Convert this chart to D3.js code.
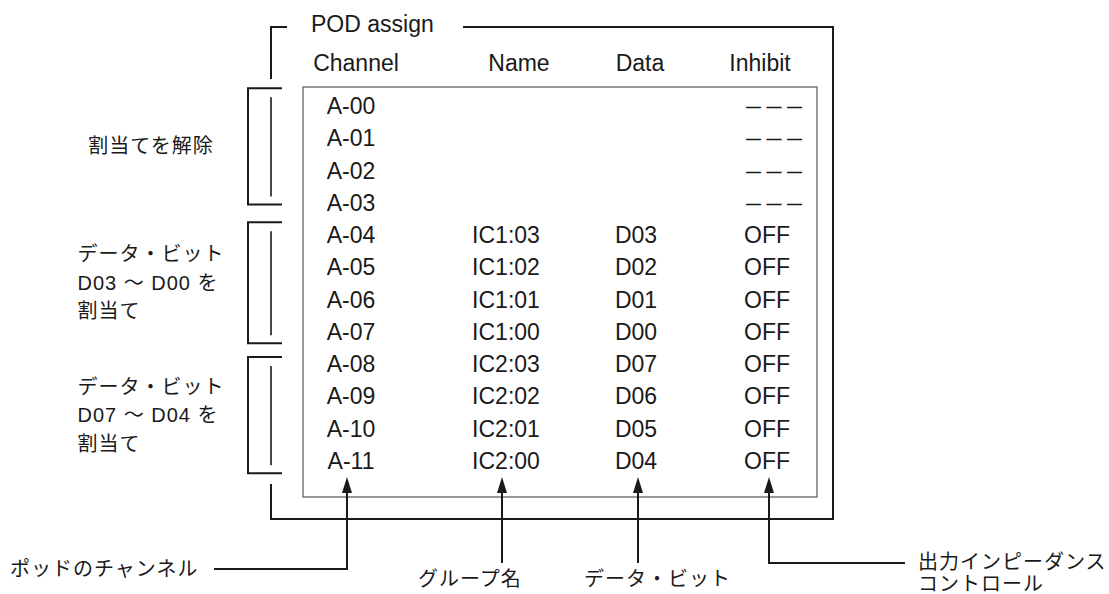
<!DOCTYPE html>
<html><head><meta charset="utf-8">
<script src="https://cdn.jsdelivr.net/npm/d3@7"></script>
<style>
html,body{margin:0;padding:0;background:#fff;}
svg{display:block;}
</style></head>
<body>
<svg id="chart" width="1109" height="594"></svg>
<script>
// ---- data ----
const title = "POD assign";
const headers = ["Channel", "Name", "Data", "Inhibit"];
const channels = ["A-00","A-01","A-02","A-03","A-04","A-05","A-06","A-07","A-08","A-09","A-10","A-11"];
const names = ["","","","","IC1:03","IC1:02","IC1:01","IC1:00","IC2:03","IC2:02","IC2:01","IC2:00"];
const dataBits = ["","","","","D03","D02","D01","D00","D07","D06","D05","D04"];
const inhibits = ["———","———","———","———","OFF","OFF","OFF","OFF","OFF","OFF","OFF","OFF"];
const groupLabels = [
  ["割当てを解除"],
  ["データ・ビット","D03 〜 D00 を","割当て"],
  ["データ・ビット","D07 〜 D04 を","割当て"]
];
const groupRows = [[0,3],[4,7],[8,11]];
const calloutLabels = [["ポッドのチャンネル"],["グループ名"],["データ・ビット"],["出力インピーダンス","コントロール"]];

// ---- layout ----
const svg = d3.select("#chart");
const ink = "#1a1a1a";
const latin = "'Liberation Sans', Arial, Helvetica, sans-serif";
const cjk = "'Liberation Sans', 'Noto Sans CJK JP', sans-serif";
const fs = 23;

svg.append("rect").attr("width",1109).attr("height",594).attr("fill","#fff");

// row scale (row centers)
const yRow = d3.scaleLinear().domain([0, channels.length-1]).range([106, 461]);
const base = i => yRow(i) + 8;

// column scales
const xCol = d3.scaleOrdinal().domain(headers).range([351, 506, 636, 767]);
const xHead = d3.scaleOrdinal().domain(headers).range([356, 519, 640, 760]);
const xArrow = d3.scaleOrdinal().domain(headers).range([347, 502, 638, 769]);

// frames
const outer = {x0: 271, x1: 833, y0: 27, y1: 519};
const inner = {x0: 303, x1: 817, y0: 87, y1: 497};

svg.append("rect").attr("x", inner.x0).attr("y", inner.y0)
  .attr("width", inner.x1-inner.x0).attr("height", inner.y1-inner.y0)
  .attr("fill","none").attr("stroke","#555").attr("stroke-width",1.2);

const line = d3.line();
const outerPaths = [
  [[463, outer.y0],[outer.x1, outer.y0],[outer.x1, outer.y1],[outer.x0, outer.y1],[outer.x0, 484]],
  [[287, outer.y0],[outer.x0, outer.y0],[outer.x0, 79]]
];
svg.selectAll(".outer").data(outerPaths).join("path")
  .attr("d", line).attr("fill","none").attr("stroke",ink).attr("stroke-width",2);

// title & headers
svg.append("text").attr("x",311).attr("y",32).attr("font-family",latin).attr("font-size",fs)
  .attr("fill",ink).text(title);
svg.selectAll(".hdr").data(headers).join("text")
  .attr("x", d => xHead(d)).attr("y", 71).attr("text-anchor","middle")
  .attr("font-family",latin).attr("font-size",fs).attr("fill",ink).text(d => d);

// rows
const rows = channels.map((c,i) => ({i, Channel:c, Name:names[i], Data:dataBits[i], Inhibit:inhibits[i]}));
["Channel","Name","Data"].forEach(col => {
  svg.selectAll(".c"+col).data(rows.filter(r => r[col])).join("text")
    .attr("x", d => xCol(col)).attr("y", d => base(d.i)).attr("text-anchor","middle")
    .attr("font-family",latin).attr("font-size",fs).attr("fill",ink).text(d => d[col]);
});
svg.selectAll(".cInh").data(rows).join("text")
  .attr("x", d => d.Inhibit === "OFF" ? xCol("Inhibit") : 746)
  .attr("y", d => d.Inhibit === "OFF" ? base(d.i) : yRow(d.i) + 6)
  .attr("text-anchor", d => d.Inhibit === "OFF" ? "middle" : "start")
  .attr("font-family",latin)
  .attr("font-size", d => d.Inhibit === "OFF" ? fs : 15)
  .attr("font-weight", d => d.Inhibit === "OFF" ? "normal" : "bold")
  .attr("letter-spacing", d => d.Inhibit === "OFF" ? 0 : 5.5)
  .attr("fill",ink).text(d => d.Inhibit);

// brackets
const spanAdj = [[-0.55, 3.05],[3.6, 7.35],[7.78, 11.38]];
const brackets = groupRows.map((g,k) => ({k, top: yRow(spanAdj[k][0]), bot: yRow(spanAdj[k][1])}));
svg.selectAll(".br").data(brackets).join("path")
  .attr("d", b => line([[282,b.top],[248,b.top],[248,b.bot],[282,b.bot]]))
  .attr("fill","none").attr("stroke",ink).attr("stroke-width",2);
svg.selectAll(".brIn").data(brackets).join("line")
  .attr("x1",271).attr("x2",271).attr("y1", b => b.top+9).attr("y2", b => b.bot-8)
  .attr("stroke",ink).attr("stroke-width",1.6);

// group labels
brackets.forEach(b => {
  const lines = groupLabels[b.k];
  const mid = (b.top + b.bot)/2;
  const lh = 28.5;
  const g = svg.append("g");
  const t = g.selectAll("text").data(lines).join("text")
    .attr("y", (d,j) => mid + (j - (lines.length-1)/2)*lh + 7)
    .attr("font-family",cjk).attr("font-size",20).attr("letter-spacing",1)
    .attr("fill",ink).text(d => d);
  let w = 0; t.each(function(){ w = Math.max(w, this.getComputedTextLength()); });
  t.attr("x", 151 - w/2);
});

// arrows
const tipY = 477, arrowLen = 16, arrowW = 5;
headers.forEach(h => {
  const x = xArrow(h);
  svg.append("path").attr("d", line([[x,tipY],[x-arrowW,tipY+arrowLen],[x+arrowW,tipY+arrowLen]]) + "Z")
    .attr("fill",ink);
});
const calloutPaths = [
  [[xArrow("Channel"), tipY+10],[xArrow("Channel"), 569],[214, 569]],
  [[xArrow("Name"), tipY+10],[xArrow("Name"), 563]],
  [[xArrow("Data"), tipY+10],[xArrow("Data"), 563]],
  [[xArrow("Inhibit"), tipY+10],[xArrow("Inhibit"), 563],[905, 563]]
];
svg.selectAll(".co").data(calloutPaths).join("path")
  .attr("d", line).attr("fill","none").attr("stroke",ink).attr("stroke-width",2);

// callout labels
const calloutPos = [{x:10, y:569}, {x:418, y:579}, {x:584, y:579}, {x:918, y:562}];
calloutLabels.forEach((lines,k) => {
  svg.append("g").selectAll("text").data(lines).join("text")
    .attr("x", calloutPos[k].x).attr("y", (d,j) => calloutPos[k].y + j*22 + 7)
    .attr("font-family",cjk).attr("font-size",20).attr("letter-spacing",1)
    .attr("fill",ink).text(d => d);
});
</script>
</body></html>
